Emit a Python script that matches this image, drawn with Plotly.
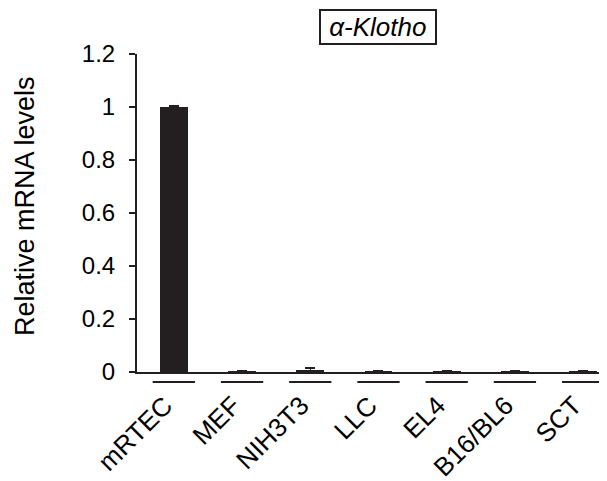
import plotly.graph_objects as go

categories = ["mRTEC", "MEF", "NIH3T3", "LLC", "EL4", "B16/BL6", "SCT"]
values = [1.0, 0.002, 0.007, 0.002, 0.002, 0.002, 0.002]
errors = [0.004, 0.001, 0.008, 0.001, 0.001, 0.001, 0.001]
y_ticks = [0, 0.2, 0.4, 0.6, 0.8, 1.0, 1.2]
y_tick_labels = ["0", "0.2", "0.4", "0.6", "0.8", "1", "1.2"]

# page body has an 8px offset; figure sized to fill the rest of the window
W, H = 599, 473
L, R, T, B = 129, 0, 46, 109
FONT = "Liberation Sans, Arial, sans-serif"
INK = "#231f20"

xs = list(range(len(categories)))

fig = go.Figure()
fig.add_trace(go.Bar(
    x=xs, y=values, width=0.41,
    marker=dict(color=INK, line=dict(width=0)),
    error_y=dict(type="data", array=errors, visible=True, color=INK, thickness=1.5, width=5),
    showlegend=False,
))

plot_w = W - L - R
plot_h = H - T - B
for i in xs:
    fig.add_shape(type="line", xref="x", yref="paper",
                  x0=i - 0.31, x1=i + 0.31, y0=-10 / plot_h, y1=-10 / plot_h,
                  line=dict(color=INK, width=2))

fig.add_annotation(text="&nbsp;<i>α-Klotho</i>&nbsp;", xref="paper", yref="paper",
                   x=(378 - 8 - L) / plot_w, y=1 + (T - 19) / plot_h,
                   showarrow=False, font=dict(family=FONT, size=26, color="black"),
                   bordercolor=INK, borderwidth=2, borderpad=1,
                   xanchor="center", yanchor="middle")

fig.add_annotation(text="Relative mRNA levels", xref="paper", yref="paper",
                   x=(25 - 8 - L) / plot_w, y=0.5 + (318 / 2 - (206 - 54)) / plot_h,
                   textangle=-90, showarrow=False,
                   font=dict(family=FONT, size=27, color="black"),
                   xanchor="center", yanchor="middle")

fig.update_layout(
    width=W, height=H,
    margin=dict(l=L, r=R, t=T, b=B, pad=0),
    plot_bgcolor="white", paper_bgcolor="white",
    font=dict(family=FONT, size=24, color="black"),
    bargap=0,
)
fig.update_xaxes(
    range=[-0.54, 6.35], tickvals=xs, ticktext=categories, tickangle=-45,
    showline=True, linecolor=INK, linewidth=2, ticks="", showgrid=False,
    zeroline=False, tickfont=dict(family=FONT, size=26), ticklabelstandoff=6,
    ticklabelshift=-9, automargin=False,
)
fig.update_yaxes(
    range=[0, 1.2], tickvals=y_ticks, ticktext=y_tick_labels,
    showline=True, linecolor=INK, linewidth=2, ticks="outside", ticklen=6,
    tickcolor=INK, tickwidth=1.5, showgrid=False, zeroline=False,
    tickfont=dict(family=FONT, size=24), ticklabelstandoff=9, automargin=False,
)

fig.write_html("out.html")
